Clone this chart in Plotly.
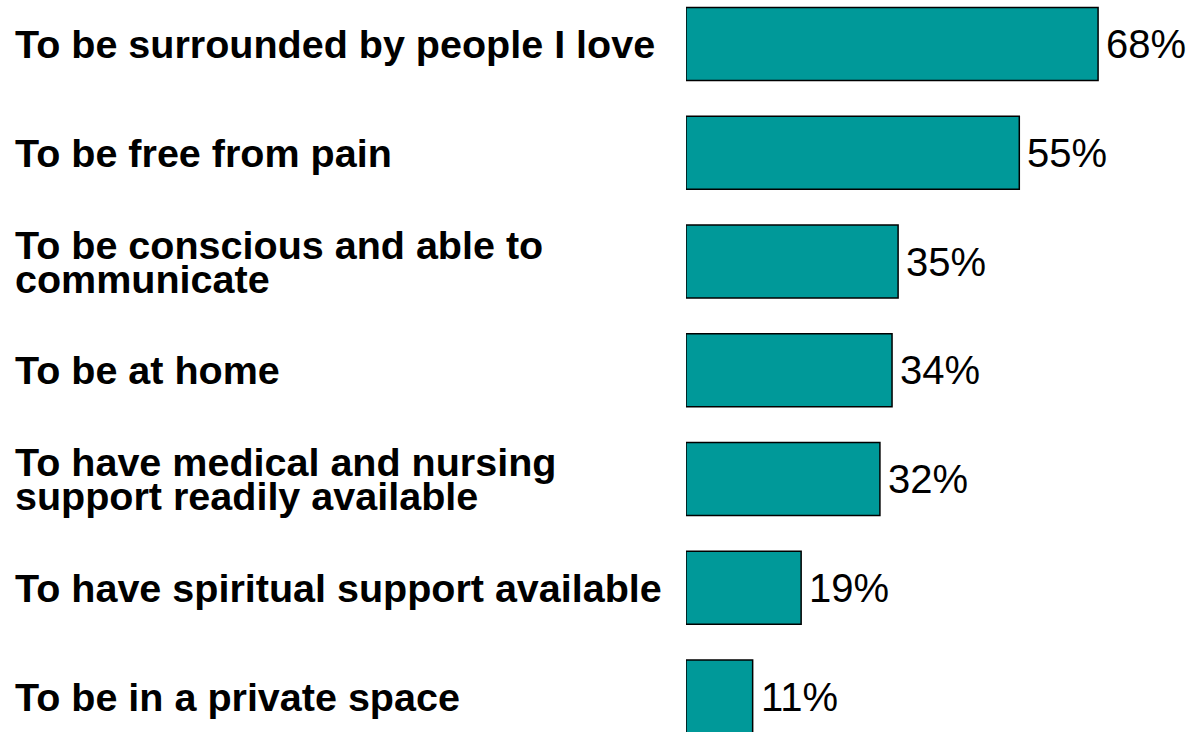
import plotly.graph_objects as go

# Survey answers: what matters most at the end of life
categories = [
    "To be surrounded by people I love",
    "To be free from pain",
    "To be conscious and able to\ncommunicate",
    "To be at home",
    "To have medical and nursing\nsupport readily available",
    "To have spiritual support available",
    "To be in a private space",
]
percentages = [68, 55, 35, 34, 32, 19, 11]

FONT = "Arial, 'Liberation Sans', sans-serif"
BAR_COLOR = "#009999"

W, H = 1193, 732
LEFT = 686
PX_PER_PCT = 6.06
ROW = 108.75
FIRST_CENTER = 44.0
LINE_GAP = 34

plot_w = W - LEFT
idx = list(range(len(categories)))

fig = go.Figure(
    go.Bar(
        x=percentages,
        y=idx,
        orientation="h",
        width=0.67,
        marker=dict(color=BAR_COLOR, line=dict(color="black", width=1.5)),
        hoverinfo="skip",
    )
)

annotations = []
for i, (label, val) in enumerate(zip(categories, percentages)):
    lines = label.split("\n")
    n = len(lines)
    for k, line in enumerate(lines):
        shift = (k - (n - 1) / 2) * LINE_GAP
        annotations.append(
            dict(
                x=(13 - LEFT) / plot_w,
                xref="paper",
                y=i,
                yref="y",
                text=f"<b>{line}</b>",
                showarrow=False,
                xanchor="left",
                yanchor="middle",
                yshift=-shift,
                font=dict(family=FONT, size=39.5, color="black"),
            )
        )
    annotations.append(
        dict(
            x=val,
            xref="x",
            y=i,
            yref="y",
            text=f"{val}%",
            showarrow=False,
            xanchor="left",
            yanchor="middle",
            xshift=6,
            font=dict(family=FONT, size=40, color="black"),
        )
    )

top_val = -FIRST_CENTER / ROW
bottom_val = (H - FIRST_CENTER) / ROW

fig.update_layout(
    width=W,
    height=H,
    margin=dict(l=LEFT, r=0, t=0, b=0, pad=0),
    paper_bgcolor="white",
    plot_bgcolor="white",
    showlegend=False,
    annotations=annotations,
    xaxis=dict(
        range=[0, plot_w / PX_PER_PCT],
        visible=False,
        fixedrange=True,
    ),
    yaxis=dict(
        range=[bottom_val, top_val],
        visible=False,
        fixedrange=True,
    ),
)

fig.write_html("out.html", config={"displayModeBar": False})
